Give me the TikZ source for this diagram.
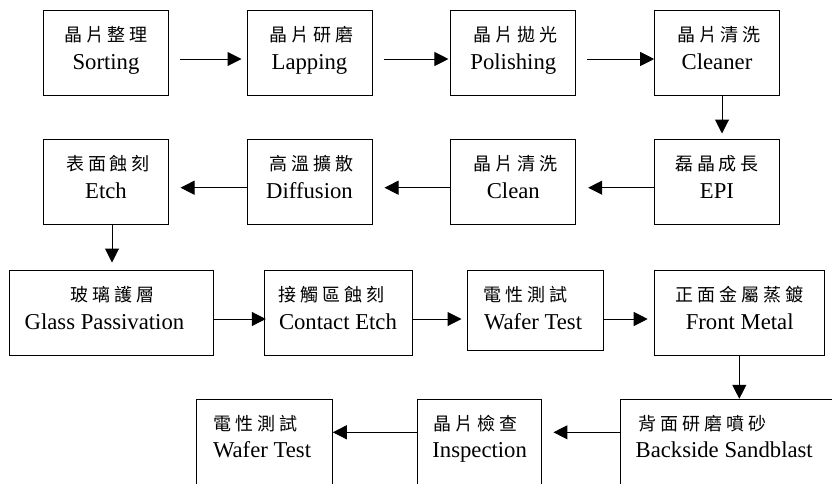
\documentclass[tikz,border=0pt]{standalone}
\usepackage{fontspec}
\setmainfont{Liberation Serif}
\newfontfamily\cjkf[LetterSpace=22]{Noto Sans CJK TC}
\usetikzlibrary{arrows.meta}
\tikzset{
  box/.style={draw, line width=1pt, rectangle, inner sep=0pt, minimum height=85pt},
  cjt/.style={anchor=base, inner sep=0pt, font=\cjkf\fontsize{18}{20}\selectfont},
  ent/.style={anchor=base, inner sep=0pt, font=\fontsize{22.7}{26}\selectfont},
  arr/.style={line width=1pt, -{Triangle[length=14pt,width=14pt]}}
}
\begin{document}
\begin{tikzpicture}[x=1pt,y=-1pt]
\useasboundingbox (0,0) rectangle (832,483);
\clip (0,0) rectangle (832,483);
% row 1
\node[box, minimum width=125pt] (b1) at (106,53) {};
\node[box, minimum width=125pt] (b2) at (309.5,53) {};
\node[box, minimum width=124.7pt] (b3) at (513.3,53) {};
\node[box, minimum width=124.6pt] (b4) at (717,53) {};
% row 2
\node[box, minimum width=124.6pt, minimum height=84.6pt] (b5) at (717,182) {};
\node[box, minimum width=124.7pt, minimum height=84.6pt] (b6) at (513.3,182) {};
\node[box, minimum width=125pt, minimum height=84.6pt] (b7) at (309.5,182) {};
\node[box, minimum width=125pt, minimum height=84.6pt] (b8) at (106,182) {};
% row 3
\node[box, minimum width=204.4pt] (b9) at (111.5,313.2) {};
\node[box, minimum width=148pt] (b10) at (338.3,313.2) {};
\node[box, minimum width=136pt, minimum height=80pt] (b11) at (535.7,310.7) {};
\node[box, minimum width=170pt, minimum height=84.6pt] (b12) at (739.7,313) {};
% row 4
\node[box, minimum width=218pt] (b13) at (729.2,441.8) {};
\node[box, minimum width=124.3pt] (b14) at (479.8,441.8) {};
\node[box, minimum width=135.6pt] (b15) at (264.5,441.8) {};
% texts
\node[cjt] (t1c) at ([xshift=0pt,yshift=-31.5pt]b1.north) {晶片整理};
\node[ent] (t1e) at ([yshift=-59pt]b1.north) {Sorting};
\node[cjt] (t2c) at ([xshift=2pt,yshift=-31.5pt]b2.north) {晶片研磨};
\node[ent] (t2e) at ([yshift=-59pt]b2.north) {Lapping};
\node[cjt] (t3c) at ([xshift=2pt,yshift=-31.5pt]b3.north) {晶片拋光};
\node[ent] (t3e) at ([yshift=-59pt]b3.north) {Polishing};
\node[cjt] (t4c) at ([xshift=2pt,yshift=-31.5pt]b4.north) {晶片清洗};
\node[ent] (t4e) at ([yshift=-59pt]b4.north) {Cleaner};
\node[cjt] (t5c) at ([xshift=0pt,yshift=-31.5pt]b5.north) {磊晶成長};
\node[ent] (t5e) at ([yshift=-59pt]b5.north) {EPI};
\node[cjt] (t6c) at ([xshift=2pt,yshift=-31.5pt]b6.north) {晶片清洗};
\node[ent] (t6e) at ([yshift=-59pt]b6.north) {Clean};
\node[cjt] (t7c) at ([xshift=2pt,yshift=-31.5pt]b7.north) {高溫擴散};
\node[ent] (t7e) at ([yshift=-59pt]b7.north) {Diffusion};
\node[cjt] (t8c) at ([xshift=2pt,yshift=-31.5pt]b8.north) {表面蝕刻};
\node[ent] (t8e) at ([yshift=-59pt]b8.north) {Etch};
\node[cjt] (t9c) at ([xshift=1pt,yshift=-31.5pt]b9.north) {玻璃護層};
\node[ent, anchor=base west] (t9e) at ([xshift=15.7pt,yshift=-59pt]b9.north west) {Glass Passivation};
\node[cjt, anchor=base west] (t10c) at ([xshift=14.5pt,yshift=-31.5pt]b10.north west) {接觸區蝕刻};
\node[ent, anchor=base west] (t10e) at ([xshift=15pt,yshift=-59pt]b10.north west) {Contact Etch};
\node[cjt, anchor=base west] (t11c) at ([xshift=16.5pt,yshift=-31.5pt]b11.north west) {電性測試};
\node[ent, anchor=base west] (t11e) at ([xshift=16.6pt,yshift=-59pt]b11.north west) {Wafer Test};
\node[cjt] (t12c) at ([xshift=0pt,yshift=-31.5pt]b12.north) {正面金屬蒸鍍};
\node[ent] (t12e) at ([yshift=-59pt]b12.north) {Front Metal};
\node[cjt, anchor=base west] (t13c) at ([xshift=18.5pt,yshift=-31.5pt]b13.north west) {背面研磨噴砂};
\node[ent, anchor=base west] (t13e) at ([xshift=15.7pt,yshift=-59pt]b13.north west) {Backside Sandblast};
\node[cjt, anchor=base west] (t14c) at ([xshift=16pt,yshift=-31.5pt]b14.north west) {晶片檢查};
\node[ent, anchor=base west] (t14e) at ([xshift=15pt,yshift=-59pt]b14.north west) {Inspection};
\node[cjt, anchor=base west] (t15c) at ([xshift=17.5pt,yshift=-31.5pt]b15.north west) {電性測試};
\node[ent, anchor=base west] (t15e) at ([xshift=16.6pt,yshift=-59pt]b15.north west) {Wafer Test};
% arrows row 1
\draw[arr] ([xshift=10.5pt,yshift=-6pt]b1.east) -- ([xshift=-5pt,yshift=-6pt]b2.west);
\draw[arr] ([xshift=11pt,yshift=-6pt]b2.east) -- ([xshift=-2pt,yshift=-6pt]b3.west);
\draw[arr] ([xshift=11pt,yshift=-6pt]b3.east) -- ([yshift=-6pt]b4.west);
\draw[arr] ([xshift=5pt]b4.south) -- ([xshift=5pt,yshift=5.7pt]b5.north);
% row 2
\draw[arr] ([yshift=-5.7pt]b5.west) -- ([xshift=12pt,yshift=-5.7pt]b6.east);
\draw[arr] ([yshift=-5.7pt]b6.west) -- ([xshift=12pt,yshift=-5.7pt]b7.east);
\draw[arr] ([yshift=-5.7pt]b7.west) -- ([xshift=11.5pt,yshift=-5.7pt]b8.east);
\draw[arr] ([xshift=6pt]b8.south) -- ([xshift=0.5pt,yshift=7.7pt]b9.north);
% row 3
\draw[arr] ([yshift=-5.8pt]b9.east) -- ([xshift=2pt,yshift=-5.8pt]b10.west);
\draw[arr] ([yshift=-5.8pt]b10.east) -- ([xshift=-5.7pt,yshift=-8.3pt]b11.west);
\draw[arr] ([yshift=-8.3pt]b11.east) -- ([xshift=-6.5pt,yshift=-6pt]b12.west);
\draw[arr] ([xshift=-0.4pt]b12.south) -- ([xshift=10.1pt]b13.north);
% row 4
\draw[arr] ([yshift=9.5pt]b13.west) -- ([xshift=11pt,yshift=9.5pt]b14.east);
\draw[arr] ([yshift=9.5pt]b14.west) -- ([yshift=9.5pt]b15.east);
\end{tikzpicture}
\end{document}
